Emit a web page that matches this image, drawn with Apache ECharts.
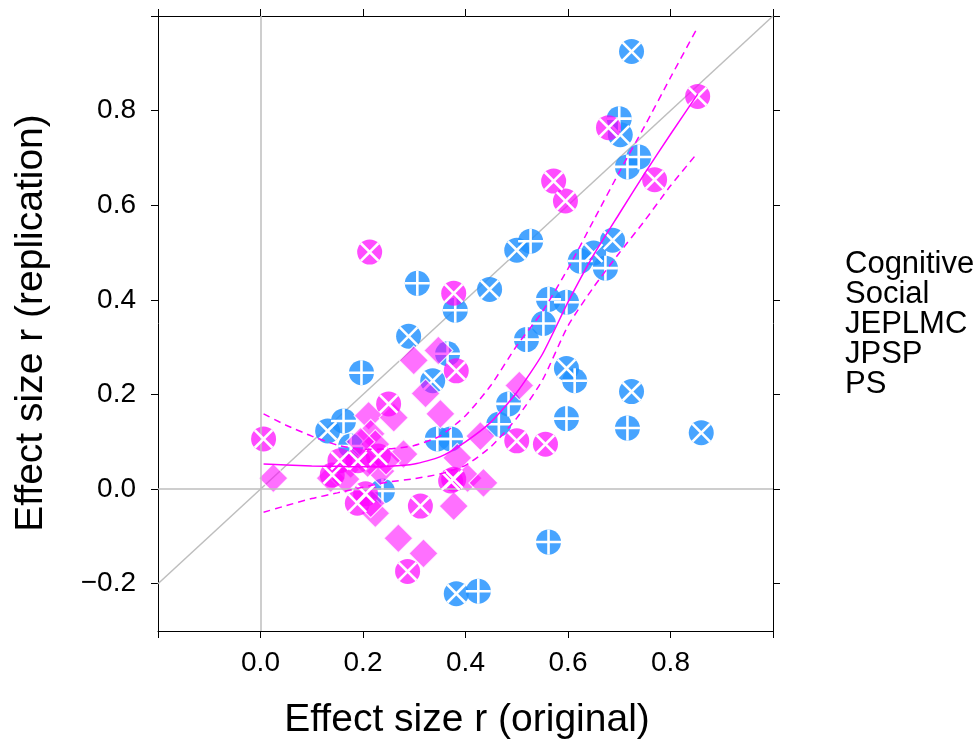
<!DOCTYPE html>
<html><head><meta charset="utf-8">
<script src="https://cdn.jsdelivr.net/npm/echarts@6/dist/echarts.min.js"></script>
<style>html,body{margin:0;padding:0;background:#fff}#c{width:978px;height:745px}</style>
</head><body><div id="c"></div>
<script>
// ---- axes ----
const xRange = [-0.2, 1.0];
const yRange = [-0.3, 1.0];
const xTicks = [-0.2, 0, 0.2, 0.4, 0.6, 0.8, 1.0];
const xLabels = [0, 0.2, 0.4, 0.6, 0.8];
const yTicks = [-0.2, 0, 0.2, 0.4, 0.6, 0.8, 1.0];
const yLabels = [-0.2, 0, 0.2, 0.4, 0.6, 0.8];
const xTitle = 'Effect size r (original)';
const yTitle = 'Effect size r (replication)';
const legendLabels = ['Cognitive', 'Social', 'JEPLMC', 'JPSP', 'PS'];
const identityLine = [-0.2, 1.0];

// ---- data: [original r, replication r] ----
const cognitiveJEPLMC = [[0.700,0.783],[0.738,0.702],[0.716,0.681],[0.527,0.524],[0.624,0.482],[0.673,0.467],[0.562,0.401],[0.597,0.395],[0.552,0.350],[0.519,0.316],[0.613,0.229],[0.597,0.149],[0.716,0.129],[0.465,0.137],[0.484,0.180],[0.306,0.435],[0.380,0.378],[0.365,0.286],[0.197,0.246],[0.162,0.144],[0.345,0.106],[0.371,0.106],[0.425,-0.216],[0.562,-0.112],[0.176,0.091],[0.238,-0.004]];
const cognitivePS = [[0.724,0.925],[0.702,0.749],[0.687,0.526],[0.650,0.499],[0.500,0.505],[0.447,0.422],[0.289,0.323],[0.336,0.229],[0.597,0.255],[0.724,0.206],[0.860,0.119],[0.131,0.123],[0.382,-0.221]];
const socialJPSP = [[0.025,0.023],[0.211,0.155],[0.260,0.151],[0.215,0.117],[0.224,0.095],[0.322,0.202],[0.351,0.159],[0.299,0.272],[0.347,0.293],[0.384,0.066],[0.429,0.112],[0.279,0.074],[0.176,0.053],[0.234,0.038],[0.404,0.023],[0.435,0.013],[0.377,-0.036],[0.224,-0.051],[0.269,-0.104],[0.318,-0.136],[0.505,0.219],[0.137,0.023],[0.166,0.021],[0.209,0.055],[0.215,-0.030],[0.195,0.100],[0.245,0.060]];
const socialPS = [[0.853,0.830],[0.679,0.764],[0.769,0.654],[0.572,0.651],[0.595,0.609],[0.213,0.501],[0.377,0.414],[0.382,0.250],[0.250,0.180],[0.006,0.106],[0.500,0.102],[0.556,0.095],[0.312,-0.036],[0.287,-0.174],[0.371,0.017],[0.189,-0.030],[0.377,0.021],[0.140,0.030],[0.190,0.060],[0.230,0.070],[0.155,0.060],[0.205,-0.010]];

// ---- loess fit for Social with band ----
const fitX     = [0.006,0.05,0.1,0.15,0.2,0.25,0.3,0.35,0.4,0.45,0.5,0.55,0.6,0.65,0.7,0.75,0.8,0.853];
const fitY     = [0.053,0.051,0.049,0.048,0.047,0.048,0.053,0.068,0.100,0.142,0.204,0.285,0.395,0.495,0.582,0.668,0.750,0.835];
const fitUpper = [0.159,0.135,0.112,0.093,0.084,0.085,0.092,0.112,0.155,0.220,0.303,0.375,0.466,0.568,0.670,0.768,0.870,0.976];
const fitLower = [-0.049,-0.035,-0.020,-0.008,0.004,0.015,0.022,0.032,0.050,0.090,0.150,0.230,0.345,0.427,0.499,0.568,0.641,0.711];

const BLUE = 'rgba(30,144,255,0.82)';
const MAG = 'rgba(255,0,255,0.7)';
const FONT = '"Liberation Sans", Arial, sans-serif';
const zip = (xs, ys) => xs.map((x, i) => [x, ys[i]]);

const plusPath = 'path://M-1.3,-12.5L1.3,-12.5L1.3,-1.3L12.5,-1.3L12.5,1.3L1.3,1.3L1.3,12.5L-1.3,12.5L-1.3,1.3L-12.5,1.3L-12.5,-1.3L-1.3,-1.3Z';
const a = 12.5 / Math.SQRT2, w = 1.3 / Math.SQRT2, c = 1.3 * Math.SQRT2;
const P = (x, y) => x.toFixed(2) + ',' + y.toFixed(2);
const crossPath = 'path://M' + [P(0,-c),P(a-w,-a-w),P(a+w,-a+w),P(c,0),P(a+w,a-w),P(a-w,a+w),P(0,c),P(-a+w,a+w),P(-a-w,a-w),P(-c,0),P(-a-w,-a+w),P(-a+w,-a-w)].join('L') + 'Z';
const crossSize = 2 * (a + w);

const fmt = v => (Math.abs(v) < 1e-9 ? '0.0' : v.toFixed(1)).replace('-', '\u2212');

function scatter(name, data, symbol, size, color, z, extra) {
  return Object.assign({
    type: 'scatter', name, data, symbol, symbolSize: size, z,
    itemStyle: { color, opacity: 1 }, silent: true, animation: false
  }, extra || {});
}

const tickStyle = { show: true, length: 7, lineStyle: { color: '#000', width: 1 } };
const lineStyleAx = { show: true, onZero: false, lineStyle: { color: '#000', width: 1 } };

const option = {
  animation: false,
  backgroundColor: '#fff',
  grid: { left: 158, top: 16, width: 615, height: 615, containLabel: false },
  xAxis: [
    { type: 'value', position: 'bottom', min: xRange[0], max: xRange[1], splitLine: { show: false },
      axisLine: lineStyleAx, axisTick: Object.assign({ customValues: xTicks }, tickStyle),
      axisLabel: { customValues: xLabels, formatter: fmt, fontSize: 28, fontFamily: FONT, color: '#000', margin: 18 } },
    { type: 'value', position: 'top', min: xRange[0], max: xRange[1], splitLine: { show: false },
      axisLine: lineStyleAx, axisTick: Object.assign({ customValues: xTicks }, tickStyle),
      axisLabel: { show: false } }
  ],
  yAxis: [
    { type: 'value', position: 'left', min: yRange[0], max: yRange[1], splitLine: { show: false },
      axisLine: lineStyleAx, axisTick: Object.assign({ customValues: yTicks }, tickStyle),
      axisLabel: { customValues: yLabels, formatter: fmt, fontSize: 28, fontFamily: FONT, color: '#000', margin: 22 } },
    { type: 'value', position: 'right', min: yRange[0], max: yRange[1], splitLine: { show: false },
      axisLine: lineStyleAx, axisTick: Object.assign({ customValues: yTicks }, tickStyle),
      axisLabel: { show: false } }
  ],
  graphic: [
    { type: 'text', x: 467, y: 720, z: 10,
      style: { text: xTitle, font: '39px ' + FONT, fill: '#000', align: 'center', verticalAlign: 'middle' } },
    { type: 'text', x: 31, y: 323, rotation: Math.PI / 2, z: 10,
      style: { text: yTitle, font: '39px ' + FONT, fill: '#000', align: 'center', verticalAlign: 'middle' } }
  ].concat(legendLabels.map((t, i) => ({
    type: 'text', x: 845, y: 264 + i * 30, z: 10,
    style: { text: t, font: '31px ' + FONT, fill: '#000', align: 'left', verticalAlign: 'middle' }
  }))),
  series: [
    { type: 'line', data: zip(identityLine, identityLine), symbol: 'none', silent: true, z: 1,
      lineStyle: { color: '#bebebe', width: 1.5 },
      markLine: { silent: true, symbol: 'none', label: { show: false },
        lineStyle: { color: '#bebebe', width: 1.5, type: 'solid' },
        data: [{ xAxis: 0 }, { yAxis: 0 }] } },
    scatter('Cognitive JEPLMC', cognitiveJEPLMC, 'circle', 25, BLUE, 2),
    scatter('Cognitive JEPLMC mark', cognitiveJEPLMC, plusPath, 25, '#fff', 3),
    scatter('Cognitive PS', cognitivePS, 'circle', 25, BLUE, 2),
    scatter('Cognitive PS mark', cognitivePS, crossPath, crossSize, '#fff', 3),
    scatter('Social JPSP', socialJPSP, 'diamond', 29, MAG, 4, { itemStyle: { color: MAG, borderColor: '#fff', borderWidth: 1.2 } }),
    scatter('Social PS', socialPS, 'circle', 25, MAG, 4),
    scatter('Social PS mark', socialPS, crossPath, crossSize, '#fff', 5),
    { type: 'line', data: zip(fitX, fitY), symbol: 'none', smooth: 0.2, silent: true, z: 6,
      lineStyle: { color: '#ff00ff', width: 1.5 } },
    { type: 'line', data: zip(fitX, fitUpper), symbol: 'none', smooth: 0.2, silent: true, z: 6,
      lineStyle: { color: '#ff00ff', width: 1.5, type: [7, 5] } },
    { type: 'line', data: zip(fitX, fitLower), symbol: 'none', smooth: 0.2, silent: true, z: 6,
      lineStyle: { color: '#ff00ff', width: 1.5, type: [7, 5] } }
  ]
};

const chart = echarts.init(document.getElementById('c'), null, { renderer: 'canvas' });
chart.setOption(option);
</script>
</body></html>
